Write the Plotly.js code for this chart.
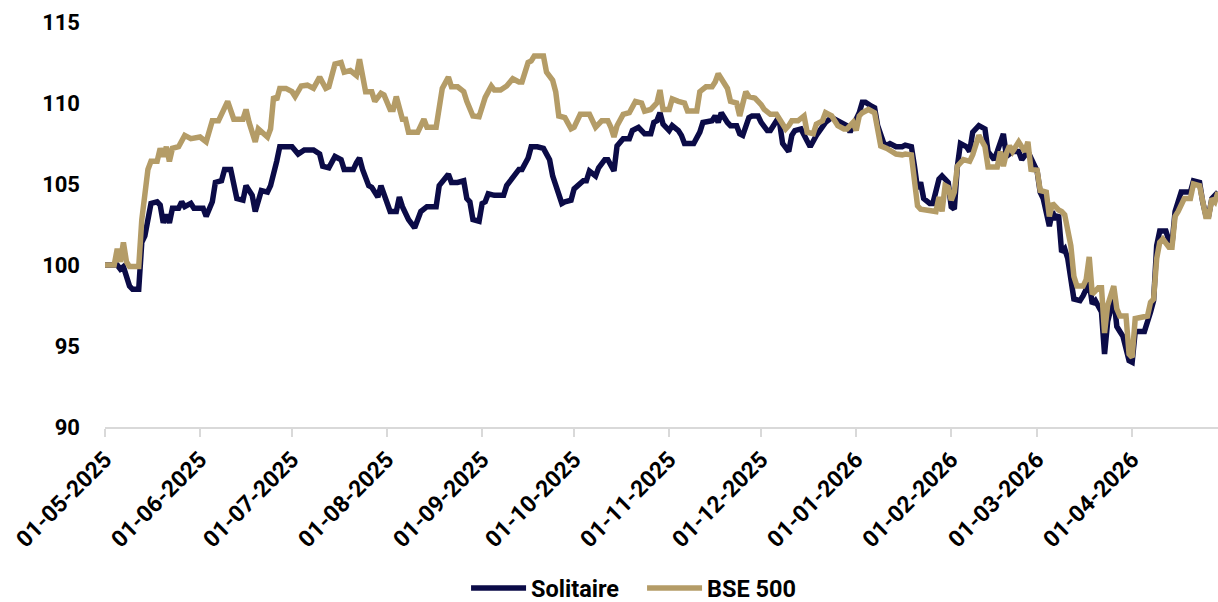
<!DOCTYPE html>
<html>
<head>
<meta charset="utf-8">
<script src="https://cdn.plot.ly/plotly-3.0.1.min.js"></script>
<style>html,body{margin:0;padding:0;background:#fff;}#chart{width:1218px;height:602px;}</style>
</head>
<body>
<div id="chart"></div>
<script>
const solDates = ["2025-05-01","2025-05-05","2025-05-06","2025-05-07","2025-05-09","2025-05-10","2025-05-12","2025-05-13","2025-05-14","2025-05-16","2025-05-18","2025-05-19","2025-05-20","2025-05-21","2025-05-22","2025-05-23","2025-05-25","2025-05-26","2025-05-27","2025-05-29","2025-05-30","2025-06-02","2025-06-03","2025-06-05","2025-06-06","2025-06-08","2025-06-09","2025-06-11","2025-06-13","2025-06-15","2025-06-16","2025-06-18","2025-06-19","2025-06-21","2025-06-23","2025-06-24","2025-06-26","2025-06-27","2025-06-30",
"2025-07-01","2025-07-03","2025-07-05","2025-07-08","2025-07-10","2025-07-11","2025-07-13","2025-07-15","2025-07-17","2025-07-18","2025-07-21","2025-07-22","2025-07-23","2025-07-24","2025-07-26","2025-07-27","2025-07-29","2025-07-30","2025-08-01","2025-08-02","2025-08-04","2025-08-05","2025-08-06","2025-08-08","2025-08-10","2025-08-11","2025-08-12","2025-08-14","2025-08-17","2025-08-18","2025-08-21","2025-08-22","2025-08-24","2025-08-26","2025-08-27","2025-08-28","2025-08-29",
"2025-08-31","2025-09-01","2025-09-02","2025-09-03","2025-09-05","2025-09-08","2025-09-09","2025-09-11","2025-09-13","2025-09-14","2025-09-16","2025-09-17","2025-09-19","2025-09-21","2025-09-23","2025-09-24","2025-09-26","2025-09-27","2025-09-28","2025-09-30","2025-10-01","2025-10-02","2025-10-04","2025-10-05","2025-10-06","2025-10-08","2025-10-09","2025-10-11","2025-10-12","2025-10-14","2025-10-15","2025-10-17","2025-10-19","2025-10-20","2025-10-22","2025-10-24","2025-10-26","2025-10-27","2025-10-28","2025-10-29","2025-10-30",
"2025-11-01","2025-11-02","2025-11-04","2025-11-05","2025-11-06","2025-11-09","2025-11-11","2025-11-12","2025-11-15","2025-11-16","2025-11-17","2025-11-18","2025-11-20","2025-11-21","2025-11-23","2025-11-24","2025-11-25","2025-11-27","2025-11-28","2025-11-30","2025-12-01","2025-12-03","2025-12-04","2025-12-06","2025-12-07","2025-12-08","2025-12-10","2025-12-11","2025-12-12","2025-12-14","2025-12-16","2025-12-17","2025-12-19","2025-12-20","2025-12-22","2025-12-24","2025-12-26","2025-12-28",
"2025-12-29","2025-12-30","2025-12-31","2026-01-02","2026-01-03","2026-01-04","2026-01-06","2026-01-07","2026-01-08","2026-01-10","2026-01-11","2026-01-12","2026-01-14","2026-01-16","2026-01-17","2026-01-19","2026-01-20","2026-01-21","2026-01-22","2026-01-23","2026-01-25","2026-01-26","2026-01-28","2026-01-29","2026-01-31","2026-02-01","2026-02-02","2026-02-03","2026-02-04","2026-02-06","2026-02-07","2026-02-08","2026-02-10","2026-02-12","2026-02-13","2026-02-15","2026-02-16","2026-02-17","2026-02-18","2026-02-19","2026-02-21","2026-02-23","2026-02-24","2026-02-26",
"2026-02-28","2026-03-01","2026-03-02","2026-03-03","2026-03-05","2026-03-06","2026-03-07","2026-03-08","2026-03-09","2026-03-10","2026-03-11","2026-03-13","2026-03-15","2026-03-16","2026-03-18","2026-03-19","2026-03-20","2026-03-22","2026-03-23","2026-03-24","2026-03-26","2026-03-27","2026-03-28","2026-03-29","2026-03-31","2026-04-01","2026-04-02","2026-04-05","2026-04-07","2026-04-08","2026-04-09","2026-04-10","2026-04-12","2026-04-13","2026-04-14","2026-04-15","2026-04-17","2026-04-20","2026-04-21","2026-04-23","2026-04-24","2026-04-25","2026-04-26","2026-04-27","2026-04-29"];
const solValues = [100.0,100.0,99.75,99.9,98.7,98.5,98.5,101.4,101.8,103.8,103.9,103.7,102.6,103.1,102.6,103.5,103.5,103.9,103.6,103.8,103.5,103.5,103.0,103.9,105.1,105.2,105.9,105.9,104.1,104.0,104.9,104.3,103.3,104.6,104.5,104.9,106.4,107.3,107.3,
107.3,106.85,107.1,107.1,106.85,106.1,106.0,106.7,106.5,105.9,105.9,106.3,106.6,105.9,104.9,104.8,104.2,104.9,103.9,103.3,103.3,104.2,103.6,102.8,102.3,102.9,103.3,103.6,103.6,104.9,105.6,105.1,105.1,105.2,104.1,103.9,102.8,
102.7,103.8,103.9,104.4,104.3,104.3,104.9,105.4,105.9,105.9,106.6,107.3,107.3,107.2,106.5,105.5,104.3,103.8,103.9,104.0,104.7,104.9,105.2,105.2,105.8,105.5,106.0,106.5,106.5,105.8,107.35,107.8,107.8,108.3,108.5,108.1,108.1,108.8,108.9,109.4,108.7,
108.3,108.6,108.3,108.0,107.5,107.5,108.2,108.8,108.9,109.2,108.8,109.4,108.8,108.6,108.6,108.1,108.0,109.1,109.2,109.2,108.8,108.3,108.3,108.9,108.8,107.5,107.0,108.0,108.3,108.4,107.65,107.3,108.0,108.3,108.8,109.1,108.9,108.7,
108.6,108.2,108.6,109.4,110.05,110.05,109.8,109.7,108.6,107.5,107.4,107.5,107.3,107.3,107.4,107.3,106.1,104.7,105.1,104.1,103.8,103.8,105.3,105.5,105.1,103.6,103.45,106.1,107.5,107.3,107.0,108.2,108.6,108.4,107.0,106.5,107.0,107.65,108.1,106.7,107.0,107.0,106.5,107.0,
106.05,105.8,104.5,104.1,102.4,103.3,102.8,103.1,100.8,101.0,100.4,97.9,97.8,98.1,98.9,97.6,97.8,97.1,94.5,96.5,98.0,96.2,95.9,95.6,94.1,94.0,95.9,95.9,97.1,97.8,101.2,102.1,102.1,101.5,101.3,103.3,104.5,104.5,105.2,105.1,103.9,103.1,103.1,104.1,104.5];

const bseDates = ["2025-05-01","2025-05-04","2025-05-05","2025-05-06","2025-05-07","2025-05-08","2025-05-09","2025-05-12","2025-05-13","2025-05-14","2025-05-15","2025-05-16","2025-05-18","2025-05-19","2025-05-20","2025-05-21","2025-05-22","2025-05-23","2025-05-25","2025-05-27","2025-05-29","2025-06-01","2025-06-03","2025-06-05","2025-06-07","2025-06-10","2025-06-12","2025-06-15","2025-06-16","2025-06-17","2025-06-19","2025-06-20","2025-06-23","2025-06-24","2025-06-25","2025-06-26","2025-06-27","2025-06-29",
"2025-07-01","2025-07-02","2025-07-04","2025-07-06","2025-07-08","2025-07-10","2025-07-11","2025-07-12","2025-07-13","2025-07-15","2025-07-17","2025-07-18","2025-07-20","2025-07-22","2025-07-23","2025-07-25","2025-07-27","2025-07-28","2025-07-30","2025-07-31","2025-08-02","2025-08-03","2025-08-04","2025-08-06","2025-08-07","2025-08-08","2025-08-11","2025-08-13","2025-08-14","2025-08-17","2025-08-19","2025-08-21","2025-08-22","2025-08-24","2025-08-26","2025-08-27","2025-08-29",
"2025-08-31","2025-09-02","2025-09-04","2025-09-05","2025-09-07","2025-09-09","2025-09-11","2025-09-13","2025-09-14","2025-09-16","2025-09-17","2025-09-18","2025-09-21","2025-09-22","2025-09-24","2025-09-25","2025-09-26","2025-09-28","2025-09-30","2025-10-01","2025-10-03","2025-10-06","2025-10-08","2025-10-10","2025-10-12","2025-10-13","2025-10-14","2025-10-15","2025-10-17","2025-10-19","2025-10-21","2025-10-23","2025-10-24","2025-10-26","2025-10-28","2025-10-29","2025-10-30",
"2025-11-01","2025-11-02","2025-11-04","2025-11-06","2025-11-07","2025-11-10","2025-11-11","2025-11-13","2025-11-15","2025-11-16","2025-11-17","2025-11-19","2025-11-20","2025-11-21","2025-11-23","2025-11-24","2025-11-26","2025-11-27","2025-11-29","2025-12-01","2025-12-02","2025-12-04","2025-12-06","2025-12-08","2025-12-09","2025-12-10","2025-12-11","2025-12-13","2025-12-15","2025-12-16","2025-12-18","2025-12-19","2025-12-21","2025-12-22","2025-12-24","2025-12-26","2025-12-28",
"2025-12-29","2025-12-31","2026-01-01","2026-01-02","2026-01-03","2026-01-05","2026-01-07","2026-01-08","2026-01-09","2026-01-11","2026-01-12","2026-01-14","2026-01-16","2026-01-17","2026-01-19","2026-01-20","2026-01-21","2026-01-22","2026-01-24","2026-01-25","2026-01-27","2026-01-28","2026-01-29","2026-01-30","2026-01-31","2026-02-01","2026-02-02","2026-02-03","2026-02-05","2026-02-07","2026-02-08","2026-02-10","2026-02-12","2026-02-13","2026-02-15","2026-02-16","2026-02-17","2026-02-18","2026-02-19","2026-02-20","2026-02-21","2026-02-23","2026-02-25","2026-02-26",
"2026-02-27","2026-03-01","2026-03-02","2026-03-04","2026-03-05","2026-03-06","2026-03-08","2026-03-09","2026-03-10","2026-03-12","2026-03-13","2026-03-14","2026-03-16","2026-03-17","2026-03-18","2026-03-19","2026-03-21","2026-03-22","2026-03-23","2026-03-24","2026-03-26","2026-03-27","2026-03-28","2026-03-30","2026-03-31","2026-04-01","2026-04-02","2026-04-04","2026-04-06","2026-04-07","2026-04-08","2026-04-09","2026-04-10","2026-04-11","2026-04-13","2026-04-14","2026-04-15","2026-04-16","2026-04-18","2026-04-20","2026-04-21","2026-04-23","2026-04-24","2026-04-25","2026-04-26","2026-04-27","2026-04-28","2026-04-29"];
const bseValues = [100.0,100.0,101.0,100.2,101.4,100.2,99.9,99.9,102.8,104.1,105.9,106.4,106.4,107.2,106.7,107.3,106.4,107.2,107.3,108.0,107.8,107.9,107.6,108.9,108.9,110.1,109.0,109.0,109.6,108.8,107.6,108.4,107.9,108.4,110.4,110.2,110.9,110.9,
110.7,110.4,111.05,111.1,110.9,111.6,111.3,110.9,111.0,112.4,112.5,111.9,112.0,111.7,112.7,110.7,110.7,110.1,110.6,110.5,109.6,109.6,110.4,109.0,109.0,108.2,108.2,109.0,108.5,108.5,110.9,111.6,111.0,111.0,110.7,110.1,109.2,
109.15,110.35,111.05,110.8,110.8,111.05,111.5,111.3,111.3,112.5,112.6,112.9,112.9,111.9,111.4,110.7,109.2,109.1,108.4,108.5,109.3,109.3,108.5,108.9,108.9,108.5,107.9,108.6,109.3,109.4,110.1,110.0,109.5,109.6,110.0,110.8,109.6,
109.6,110.25,110.1,110.0,109.5,109.5,110.7,111.0,111.0,111.3,111.8,111.2,110.9,110.1,110.0,109.2,110.7,110.4,110.3,109.9,109.6,109.3,109.3,108.7,108.4,108.6,108.9,108.9,109.2,108.2,108.1,108.7,108.9,109.4,109.2,108.6,108.4,
108.4,108.8,108.3,109.2,109.4,109.6,109.4,108.5,107.35,107.2,107.1,106.85,106.8,106.85,106.8,105.3,103.65,103.45,103.4,103.4,103.3,104.2,103.3,104.9,104.8,104.0,104.5,106.1,106.5,106.4,106.8,108.0,107.3,106.05,106.05,106.05,107.0,106.1,106.9,107.35,107.0,107.6,107.0,107.6,
105.9,105.85,104.6,104.5,103.0,103.8,103.4,103.3,103.1,101.2,99.3,98.7,98.7,99.1,100.5,98.2,98.6,98.6,95.8,97.5,98.7,97.3,96.85,96.85,94.5,94.3,96.7,96.8,96.85,97.7,97.9,100.4,101.4,101.6,101.1,101.1,103.0,103.3,104.1,104.1,105.0,104.9,103.8,103.0,103.0,104.1,103.9,104.5];

const monthTicks = ["2025-05-01","2025-06-01","2025-07-01","2025-08-01","2025-09-01","2025-10-01","2025-11-01","2025-12-01","2026-01-01","2026-02-01","2026-03-01","2026-04-01"];
const yTicks = [90, 95, 100, 105, 110, 115];

const FONT = "Roboto, 'Open Sans', sans-serif";
const traces = [
  {x: solDates, y: solValues, type: 'scatter', mode: 'lines', name: 'Solitaire',
   line: {color: '#0b0b47', width: 5.5}},
  {x: bseDates, y: bseValues, type: 'scatter', mode: 'lines', name: 'BSE 500',
   line: {color: '#b49c67', width: 5.5}}
];
const layout = {
  width: 1218, height: 602,
  margin: {l: 105, r: 0, t: 22, b: 175, autoexpand: false},
  paper_bgcolor: '#ffffff', plot_bgcolor: '#ffffff',
  font: {family: FONT, color: '#000000'},
  showlegend: true,
  legend: {orientation: 'h', x: 0.3244, xanchor: 'left', y: -0.398, yanchor: 'middle',
           itemwidth: 55, entrywidth: 106, entrywidthmode: 'pixels',
           font: {family: FONT, size: 23.5, weight: 'bold', color: '#000'}, traceorder: 'normal'},
  xaxis: {
    type: 'date', range: ['2025-05-01', '2026-04-29'],
    tickmode: 'array', tickvals: monthTicks, tickformat: '%d-%m-%Y',
    tickangle: -45, tickfont: {family: FONT, size: 23, weight: 'bold', color: '#000'},
    showgrid: false, zeroline: false,
    showline: true, linecolor: '#d9d9d9', linewidth: 2,
    ticks: 'outside', ticklen: 8, tickwidth: 2, tickcolor: '#d9d9d9'
  },
  yaxis: {
    range: [90, 115], tickmode: 'array', tickvals: yTicks,
    tickfont: {family: FONT, size: 22, weight: 'bold', color: '#000'},
    showgrid: false, zeroline: false, showline: false, ticks: '',
    ticklabelstandoff: 24
  }
};
Plotly.newPlot('chart', traces, layout, {staticPlot: true, displayModeBar: false});
</script>
</body>
</html>
